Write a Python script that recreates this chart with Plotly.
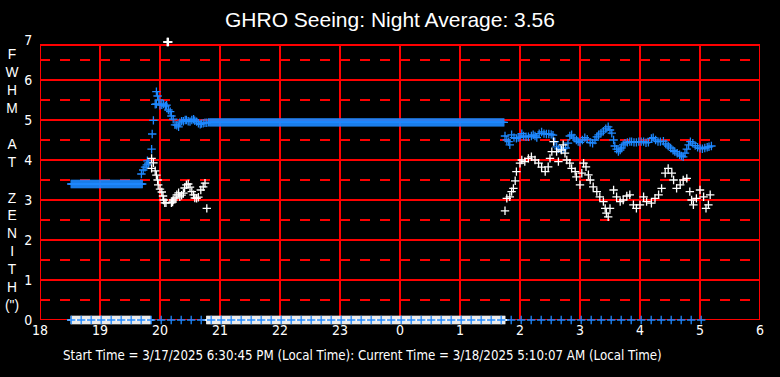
import numpy as np
import plotly.graph_objects as go

# ---------------- data (hours after midnight of start day; 24+ = next morning) -------------
x_tick_vals = [18, 19, 20, 21, 22, 23, 24, 25, 26, 27, 28, 29, 30]
x_tick_text = ["18", "19", "20", "21", "22", "23", "0", "1", "2", "3", "4", "5", "6"]
y_tick_vals = [0, 1, 2, 3, 4, 5, 6, 7]
y_tick_text = ["0", "1", "2", "3", "4", "5", "6", "7"]

title_text = "GHRO Seeing: Night Average: 3.56"
footer_text = ("Start Time = 3/17/2025 6:30:45 PM (Local Time): "
               "Current Time = 3/18/2025 5:10:07 AM (Local Time)")
ylabel_text = "F<br>W<br>H<br>M<br><br>A<br>T<br><br>Z<br>E<br>N<br>I<br>T<br>H<br>(\")"

minute = 1.0 / 60.0

# blue (averaged FWHM) -- flat early segment
blue_flat1_t = np.arange(18.52, 19.71, minute)
blue_flat1_v = [3.40] * len(blue_flat1_t)

# blue -- rise around 20h
blue_rise_t = [19.69, 19.72, 19.75, 19.78, 19.79, 19.81, 19.86, 19.87, 19.89, 19.92,
               19.94, 19.94, 19.96, 19.98, 20.00, 20.03, 20.06, 20.09, 20.11, 20.14,
               20.17, 20.19, 20.22, 20.25, 20.28, 20.31, 20.33, 20.36, 20.39, 20.42,
               20.44, 20.47, 20.50, 20.53, 20.56, 20.58, 20.61, 20.64, 20.67, 20.69,
               20.72, 20.75, 20.78, 20.81]
blue_rise_v = [3.65, 3.75, 3.82, 3.88, 3.98, 3.93, 4.27, 4.65, 4.99, 5.39,
               5.71, 5.40, 5.60, 5.50, 5.37, 5.38, 5.40, 5.35, 5.37, 5.25,
               5.21, 5.10, 5.02, 4.88, 4.87, 4.83, 4.93, 4.97, 4.97, 5.00,
               5.00, 4.97, 4.96, 5.00, 5.02, 4.98, 4.96, 4.92, 4.89, 4.91,
               4.92, 4.93, 4.93, 4.94]

# blue -- long flat segment
blue_flat2_t = np.arange(20.83, 25.74, minute)
blue_flat2_v = [4.94] * len(blue_flat2_t)

# blue -- late segment
blue_late_t = [25.75, 25.78, 25.81, 25.83, 25.86, 25.90, 25.94, 25.97, 26.00, 26.03,
               26.06, 26.10, 26.14, 26.19, 26.22, 26.25, 26.28, 26.32, 26.36, 26.40,
               26.44, 26.48, 26.52, 26.55, 26.58, 26.61, 26.64, 26.68, 26.72, 26.76,
               26.80, 26.83, 26.86, 26.90, 26.94, 26.97, 27.00, 27.04, 27.08, 27.12,
               27.17, 27.21, 27.25, 27.28, 27.31, 27.35, 27.39, 27.43, 27.47, 27.50,
               27.53, 27.56, 27.58, 27.61, 27.64, 27.67, 27.69, 27.72, 27.75, 27.79,
               27.83, 27.86, 27.90, 27.94, 27.98, 28.02, 28.06, 28.10, 28.14, 28.19,
               28.22, 28.26, 28.30, 28.34, 28.39, 28.43, 28.47, 28.51, 28.55, 28.58,
               28.62, 28.66, 28.69, 28.72, 28.75, 28.78, 28.81, 28.84, 28.88, 28.92,
               28.96, 29.00, 29.04, 29.08, 29.12, 29.15, 29.19]
blue_late_v = [4.60, 4.50, 4.46, 4.38, 4.63, 4.56, 4.54, 4.56, 4.57, 4.66,
               4.60, 4.58, 4.58, 4.60, 4.63, 4.60, 4.56, 4.66, 4.70, 4.66,
               4.65, 4.65, 4.64, 4.62, 4.46, 4.33, 4.28, 4.27, 4.28, 4.30,
               4.42, 4.60, 4.63, 4.55, 4.50, 4.46, 4.44, 4.50, 4.56, 4.52,
               4.44, 4.42, 4.50, 4.58, 4.63, 4.67, 4.72, 4.78, 4.83, 4.75,
               4.67, 4.50, 4.35, 4.27, 4.21, 4.25, 4.30, 4.38, 4.42, 4.44,
               4.46, 4.46, 4.44, 4.44, 4.46, 4.46, 4.46, 4.43, 4.44, 4.54,
               4.56, 4.50, 4.46, 4.46, 4.47, 4.40, 4.35, 4.30, 4.24, 4.21,
               4.17, 4.13, 4.10, 4.08, 4.17, 4.27, 4.38, 4.46, 4.42, 4.36,
               4.32, 4.29, 4.28, 4.30, 4.32, 4.33, 4.35]

# white (individual FWHM) -- early
white_early_t = [19.86, 19.89, 19.86, 19.92, 19.94, 19.96, 19.97, 20.00, 20.03, 20.05,
                 20.06, 20.08, 20.10, 20.19, 20.21, 20.22, 20.25, 20.28, 20.31, 20.33,
                 20.36, 20.39, 20.41, 20.44, 20.47, 20.50, 20.53, 20.56, 20.58, 20.61,
                 20.64, 20.68, 20.72, 20.75, 20.78]
white_early_v = [4.04, 3.93, 3.79, 3.73, 3.62, 3.50, 3.38, 3.27, 3.20, 3.10,
                 3.00, 2.93, 2.93, 2.93, 2.95, 3.00, 3.05, 3.13, 3.18, 3.08,
                 3.12, 3.17, 3.30, 3.38, 3.40, 3.32, 3.21, 3.13, 3.05, 3.04,
                 3.07, 3.25, 3.33, 3.42, 2.79]

# white -- single high value near the top
white_top_t = [20.12, 20.13, 20.14]
white_top_v = [6.95, 6.95, 6.95]

# white -- late
white_late_t = [25.75, 25.78, 25.83, 25.86, 25.89, 25.92, 25.94, 26.00, 26.03, 26.08,
                26.14, 26.19, 26.25, 26.31, 26.36, 26.42, 26.47, 26.50, 26.53, 26.56,
                26.61, 26.64, 26.69, 26.72, 26.75, 26.78, 26.83, 26.86, 26.92, 26.94,
                27.00, 27.03, 27.06, 27.10, 27.14, 27.17, 27.22, 27.28, 27.33, 27.39,
                27.42, 27.44, 27.47, 27.50, 27.56, 27.61, 27.67, 27.72, 27.78, 27.83,
                27.89, 27.94, 28.00, 28.06, 28.11, 28.19, 28.25, 28.31, 28.36, 28.42,
                28.47, 28.53, 28.56, 28.61, 28.67, 28.72, 28.78, 28.83, 28.86, 28.89,
                28.94, 29.00, 29.06, 29.10, 29.14, 29.17]
white_late_v = [2.73, 3.04, 3.08, 3.21, 3.29, 3.48, 3.71, 3.92, 4.00, 3.96,
                4.04, 4.08, 4.00, 3.92, 3.82, 3.71, 3.83, 4.04, 4.21, 4.46,
                4.21, 3.96, 4.25, 4.38, 4.17, 4.00, 3.92, 3.79, 3.71, 3.58,
                3.38, 3.67, 3.92, 3.83, 3.63, 3.50, 3.33, 3.21, 3.08, 2.96,
                2.79, 2.67, 2.58, 2.79, 3.25, 3.08, 2.96, 3.00, 3.10, 3.13,
                2.88, 2.79, 2.88, 3.08, 2.96, 2.92, 3.04, 3.13, 3.29, 3.67,
                3.79, 3.67, 3.50, 3.29, 3.38, 3.50, 3.54, 3.21, 3.00, 2.88,
                3.04, 3.25, 3.08, 2.79, 2.88, 3.13]

# zero readings (no measurement)
white_zero_t = np.concatenate([np.arange(18.52, 19.84, minute), np.arange(20.78, 25.76, minute)])
white_zero_v = [0.0] * len(white_zero_t)
blue_zero_t = np.arange(18.52, 29.18, 10 * minute)
blue_zero_v = [0.0] * len(blue_zero_t)

# ---------------- styling --------------------------------------------------------------
BLUE = "#1E88FF"
WHITE = "#FFFFFF"
RED = "#FF0000"
NARROW = "Liberation Sans Narrow, Arial Narrow, DejaVu Sans Condensed, sans-serif"
Y_TOP = 6.875  # top edge of the drawn frame
FIG_W, FIG_H = 780, 377
GRID_W = 2


def crosses(t, v, color, size=6):
    return go.Scatter(x=t, y=v, mode="markers", cliponaxis=False, hoverinfo="skip",
                      marker=dict(symbol="cross-thin", size=size, color=color,
                                  line=dict(width=1.3, color=color)),
                      showlegend=False)


fig = go.Figure()
fig.add_trace(crosses(white_zero_t, white_zero_v, WHITE))
fig.add_trace(crosses(blue_zero_t, blue_zero_v, BLUE))
fig.add_trace(crosses(blue_flat1_t, blue_flat1_v, BLUE))
fig.add_trace(crosses(blue_rise_t, blue_rise_v, BLUE))
fig.add_trace(crosses(blue_flat2_t, blue_flat2_v, BLUE))
fig.add_trace(crosses(blue_late_t, blue_late_v, BLUE))
fig.add_trace(crosses(white_early_t, white_early_v, WHITE))
fig.add_trace(crosses(white_top_t, white_top_v, WHITE))
fig.add_trace(crosses(white_late_t, white_late_v, WHITE))

shapes = []
for xv in x_tick_vals:
    shapes.append(dict(type="line", xref="x", yref="y", x0=xv, x1=xv, y0=0, y1=Y_TOP,
                       line=dict(color=RED, width=GRID_W), layer="below"))
for yv in y_tick_vals[1:-1]:
    shapes.append(dict(type="line", xref="x", yref="y", x0=18, x1=30, y0=yv, y1=yv,
                       line=dict(color=RED, width=GRID_W), layer="below"))
for yv in y_tick_vals[:-1]:
    shapes.append(dict(type="line", xref="x", yref="y", x0=18, x1=30, y0=yv + 0.5, y1=yv + 0.5,
                       line=dict(color=RED, width=GRID_W, dash="10px,10px"), layer="below"))
shapes.append(dict(type="rect", xref="x", yref="y", x0=18, x1=30, y0=0, y1=Y_TOP,
                   line=dict(color=RED, width=GRID_W), layer="below"))

fig.update_layout(
    width=FIG_W, height=FIG_H,
    margin=dict(l=40, r=20, t=40, b=57, autoexpand=False),
    paper_bgcolor="black", plot_bgcolor="black",
    title=dict(text=title_text, x=390 / FIG_W, xanchor="center", xref="container",
               y=1 - 20 / FIG_H, yanchor="middle", yref="container",
               font=dict(family="Liberation Sans, Arial, sans-serif", size=21, color=WHITE)),
    xaxis=dict(range=[18, 30], tickvals=x_tick_vals, ticktext=x_tick_text,
               showgrid=False, zeroline=False, showline=False, ticks="",
               tickfont=dict(family=NARROW, size=14, color=WHITE)),
    yaxis=dict(range=[0, 7], tickvals=y_tick_vals, ticktext=y_tick_text,
               showgrid=False, zeroline=False, showline=False,
               ticks="outside", ticklen=4, tickcolor="black",
               tickfont=dict(family=NARROW, size=14, color=WHITE)),
    shapes=shapes,
    annotations=[
        dict(text=ylabel_text, xref="paper", yref="paper", x=(12 - 40) / 720,
             y=(320 - 179.5) / 280, xanchor="center", yanchor="middle", showarrow=False,
             align="center",
             font=dict(family="Liberation Sans, Arial, sans-serif", size=13.8, color=WHITE)),
        dict(text=footer_text, xref="paper", yref="paper", x=(362 - 40) / 720,
             y=(320 - 355) / 280, xanchor="center", yanchor="middle", showarrow=False,
             font=dict(family=NARROW, size=13.2, color=WHITE)),
    ],
)

# remove the default 8px page margin so the 780x377 figure fills the window exactly
fig.write_html("out.html", config={"displayModeBar": False, "staticPlot": True},
               post_script="document.body.style.margin='0';document.body.style.overflow='hidden';")
